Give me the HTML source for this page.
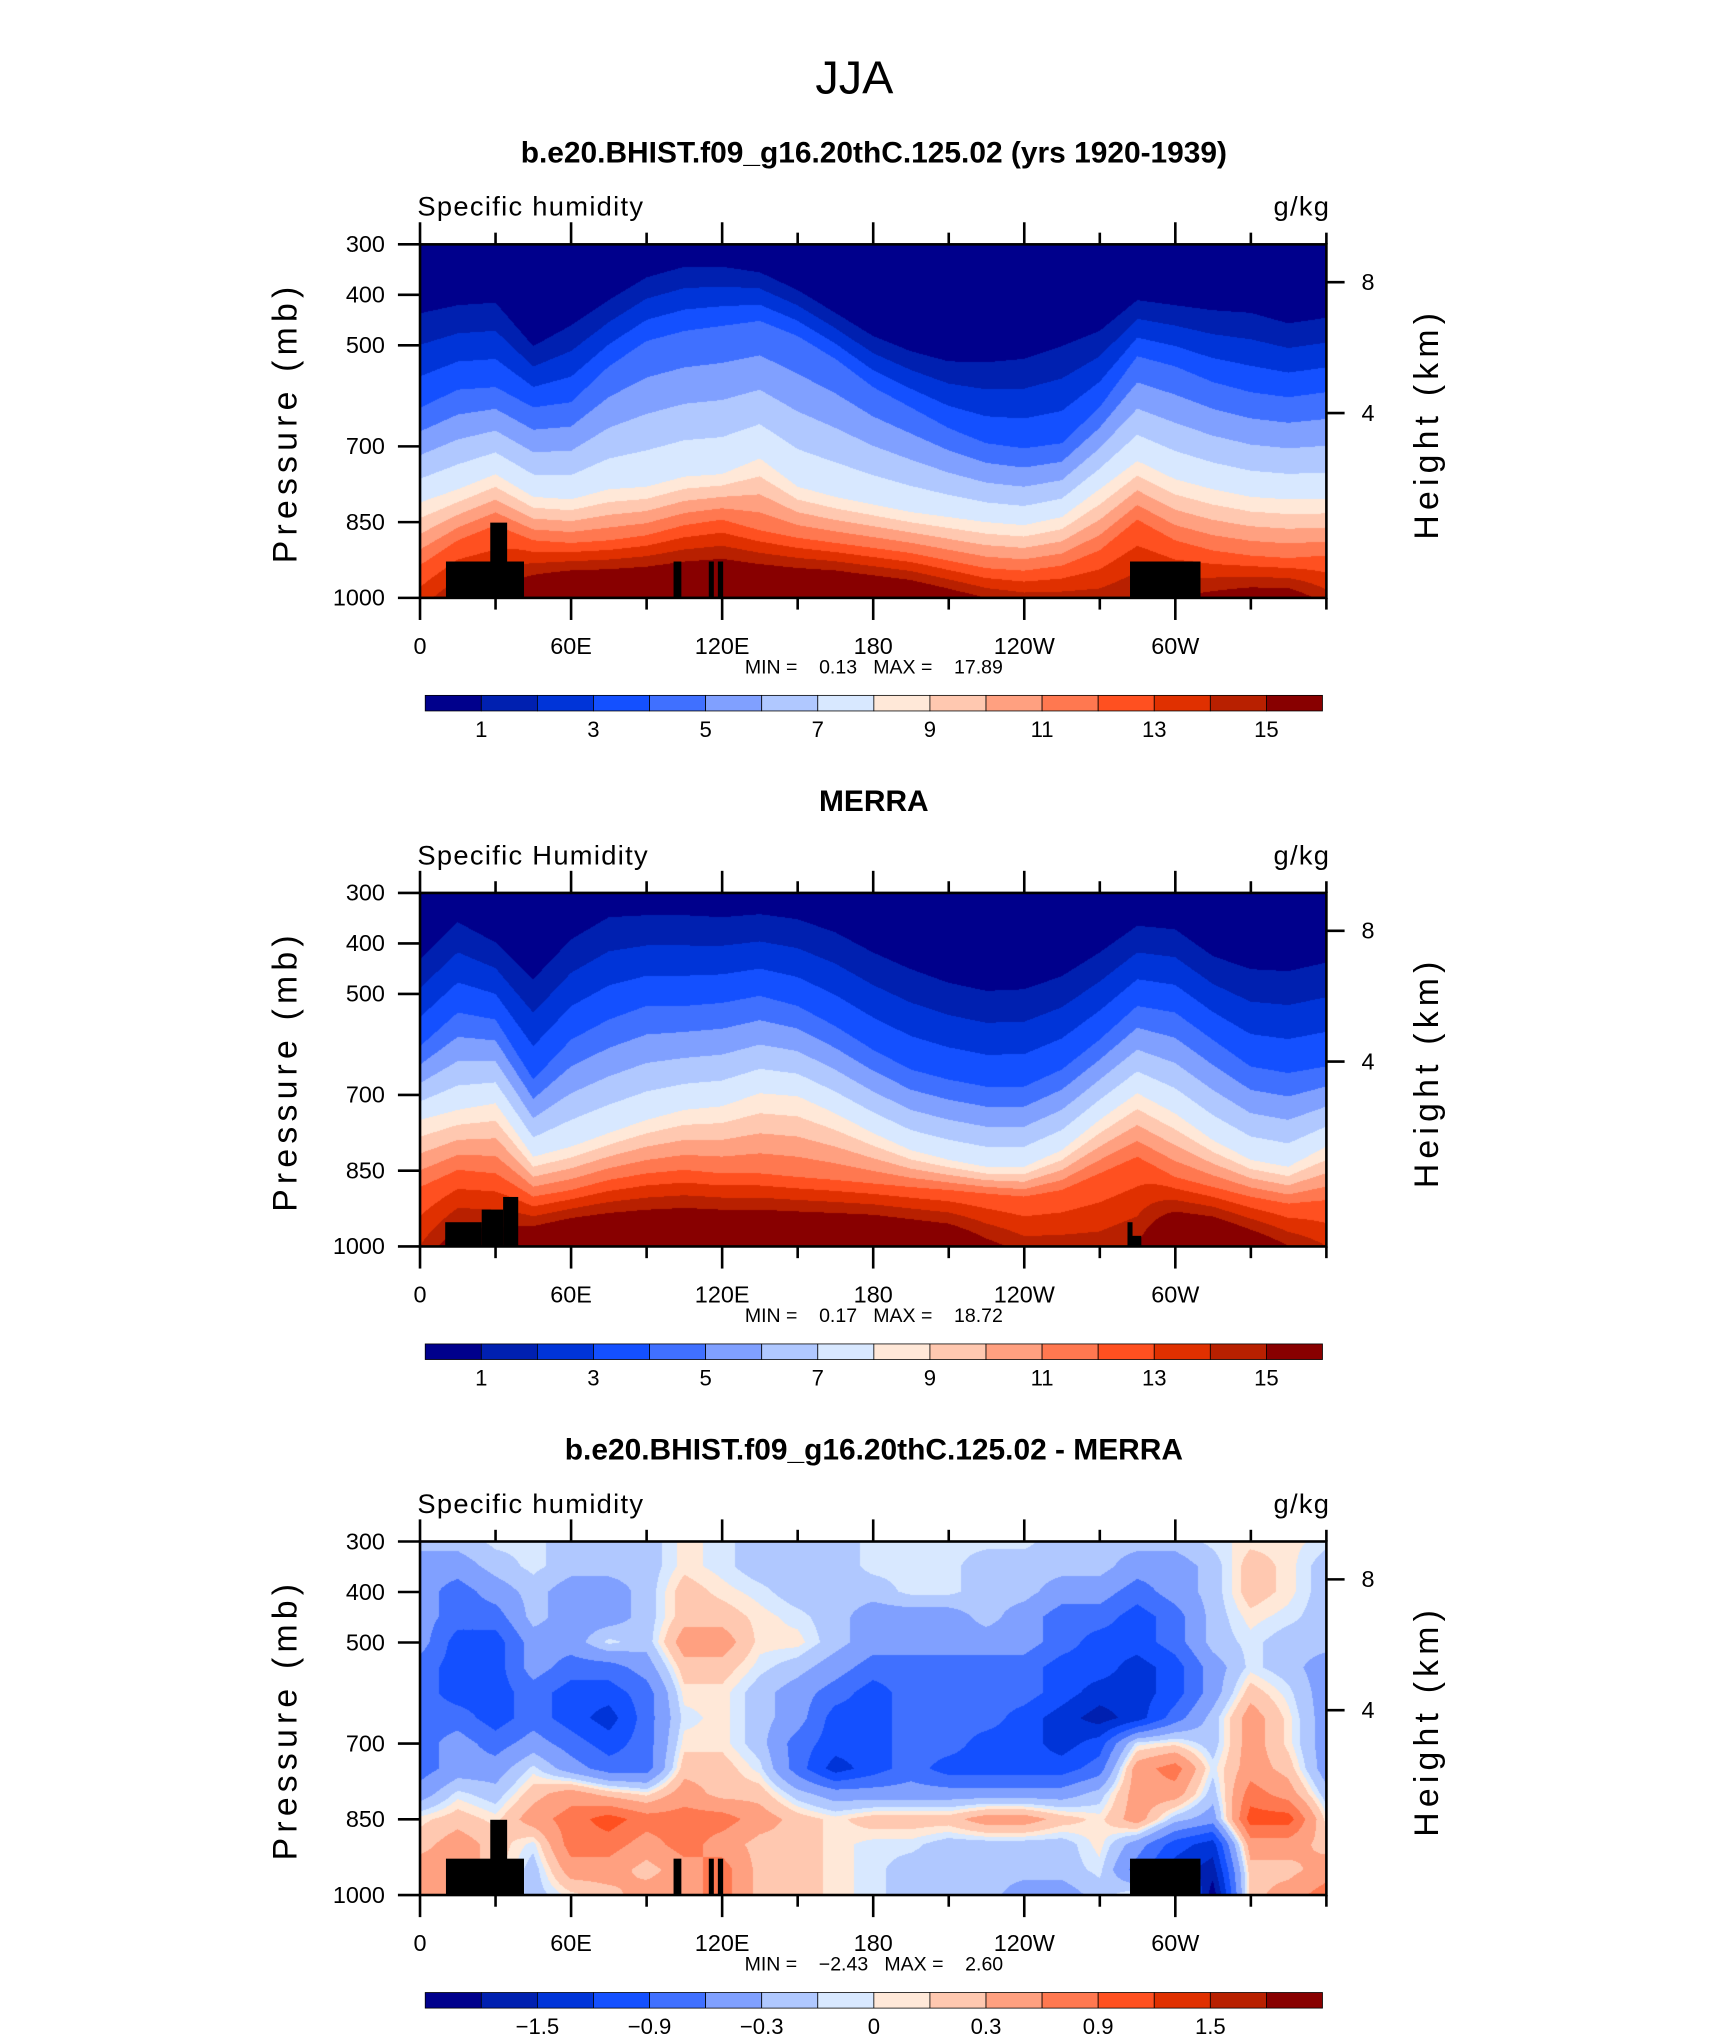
<!DOCTYPE html>
<html><head><meta charset="utf-8"><title>JJA Specific humidity</title>
<style>
html,body{margin:0;padding:0;background:#fff}
#page{position:relative;width:1710px;height:2038px;overflow:hidden;background:#fff}
canvas{position:absolute;display:block}
svg{position:absolute;left:0;top:0}
text{font-family:"Liberation Sans",sans-serif;fill:#000}
</style></head>
<body>
<div id="page">
<canvas id="f1"></canvas>
<canvas id="f2"></canvas>
<canvas id="f3"></canvas>
<svg id="ov" width="1710" height="2038" viewBox="0 0 1315 1568" preserveAspectRatio="none"></svg>
</div>
<script>
// ---------------- data ----------------
const lons = [0,15,30,45,60,75,90,105,120,135,150,165,180,195,210,225,240,255,270,285,300,315,330,345,360];
// panel 1 (model): pressure (mb) of the 1, 4, 8, 12 g/kg contours, and near-surface value
const m1P1  = [437,421,416,502,461,411,366,345,345,356,391,436,482,512,532,534,527,502,472,411,421,431,436,457,446];
const m1P4  = [624,588,583,623,613,542,492,472,462,452,482,527,583,623,664,694,704,694,623,522,542,573,593,603,593];
const m1P8  = [811,785,755,800,805,785,780,760,755,724,780,800,815,830,840,850,856,840,785,729,765,785,800,805,805];
const m1P12 = [935,886,856,886,891,886,876,856,845,866,881,891,901,911,926,941,946,936,906,845,886,906,916,921,916];
const m1Qs  = [13.5,15,15,17,18,18,18,18,18,18,18,18,17.5,17,16,15,14.5,14.5,14.5,15,15,15.5,16,16,14.5];
// panel 2 (MERRA)
const m2P1  = [431,358,398,471,392,348,344,344,348,342,352,378,418,451,478,494,491,465,418,365,372,425,451,455,438];
const m2P4  = [604,537,551,670,591,551,524,524,518,504,524,564,611,650,670,684,684,650,591,524,537,591,644,657,644];
const m2P8  = [750,730,717,823,803,776,750,730,723,697,703,737,776,810,829,843,843,810,750,697,737,790,829,843,803];
const m2P12 = [883,849,856,902,889,869,856,849,856,856,863,869,876,883,889,896,902,889,856,823,863,883,902,916,909];
const m2Qs  = [14,16,16,17,18,18,18,18,18,18,18,18,18,17.5,17,15.5,14.5,14.5,14.5,15,18,18,16.5,15,14];
// panel 3 (difference) grid: rows of pressures, columns of lons
const diffP = [300,350,400,450,500,550,600,650,700,750,800,850,900,950,1000];
const diffRows = [
[-0.2,-0.2,-0.05,-0.05,-0.2,-0.2,-0.2,0.05,-0.05,-0.2,-0.2,-0.2,-0.05,-0.05,-0.05,-0.05,-0.05,-0.2,-0.2,-0.2,-0.2,-0.05,0.05,0.05,-0.05],
[-0.45,-0.45,-0.2,-0.05,-0.2,-0.2,-0.2,0.05,-0.05,-0.2,-0.2,-0.2,-0.05,-0.05,-0.05,-0.2,-0.2,-0.2,-0.2,-0.45,-0.45,-0.2,0.2,0.05,-0.2],
[-0.45,-0.75,-0.45,-0.2,-0.45,-0.45,-0.2,0.2,0.05,-0.05,-0.2,-0.2,-0.2,-0.05,-0.05,-0.2,-0.2,-0.45,-0.45,-0.75,-0.45,-0.2,0.2,0.05,-0.2],
[-0.45,-0.75,-0.75,-0.2,-0.45,-0.45,-0.2,0.2,0.2,0.05,-0.05,-0.2,-0.45,-0.45,-0.45,-0.2,-0.45,-0.75,-0.75,-1.05,-0.75,-0.2,0.05,-0.05,-0.2],
[-0.45,-1.05,-1.05,-0.45,-0.45,-0.05,-0.2,0.45,0.45,0.05,0.05,-0.2,-0.45,-0.45,-0.45,-0.45,-0.45,-0.75,-1.05,-1.05,-0.75,-0.2,-0.05,-0.2,-0.2],
[-0.75,-1.05,-1.05,-0.45,-0.75,-0.75,-0.45,0.2,0.2,-0.05,-0.2,-0.45,-0.75,-0.75,-0.75,-0.75,-0.75,-1.05,-1.05,-1.35,-1.05,-0.45,-0.05,-0.2,-0.45],
[-0.75,-1.05,-1.05,-0.75,-1.05,-1.05,-0.75,0.05,0.05,-0.2,-0.45,-0.75,-1.05,-0.75,-0.75,-0.75,-0.75,-1.05,-1.35,-1.35,-1.05,-0.45,0.2,-0.05,-0.45],
[-0.75,-0.75,-1.05,-0.75,-1.05,-1.35,-0.75,-0.05,0.05,-0.2,-0.45,-1.05,-1.05,-0.75,-0.75,-0.75,-1.05,-1.35,-1.65,-1.35,-0.75,-0.2,0.45,0.05,-0.45],
[-0.75,-0.45,-0.75,-0.45,-0.75,-1.05,-0.75,0.05,0.05,-0.2,-0.75,-1.05,-1.05,-0.75,-0.75,-1.05,-1.05,-1.35,-1.05,-0.05,0.05,-0.2,0.45,0.05,-0.45],
[-0.75,-0.45,-0.45,-0.05,-0.45,-0.75,-0.75,0.2,0.2,-0.05,-0.75,-1.35,-1.05,-0.75,-1.05,-1.05,-1.05,-1.05,-0.75,0.45,0.75,-0.05,0.45,0.2,-0.45],
[-0.45,-0.05,-0.2,0.2,0.45,0.2,0.05,0.45,0.2,0.2,-0.2,-0.45,-0.45,-0.45,-0.45,-0.45,-0.45,-0.45,-0.2,0.45,0.45,-0.2,0.75,0.45,-0.2],
[0.05,0.2,0.05,0.45,0.75,1.05,0.75,0.75,0.75,0.45,0.2,0.05,0.2,0.2,0.2,0.45,0.45,0.2,0.05,0.45,-0.2,-0.45,1.05,1.05,0.05],
[0.2,0.45,0.2,-0.05,0.75,0.75,0.45,0.75,0.45,0.2,0.2,0.05,-0.05,-0.05,-0.2,-0.2,-0.2,-0.2,0.05,-0.45,-1.05,-1.35,0.45,0.45,0.2],
[0.45,0.45,0.2,-0.2,0.45,0.45,0.2,0.45,0.75,0.2,0.2,0.05,-0.05,-0.2,-0.2,-0.2,-0.2,-0.2,-0.05,-0.75,-1.35,-1.65,0.2,0.2,0.45],
[0.45,0.45,0.2,-0.2,0.05,0.2,0.45,0.45,0.75,0.2,0.2,0.05,-0.05,-0.2,-0.2,-0.2,-0.45,-0.45,-0.2,0.05,-0.2,-2,0.2,0.45,0.75]
];
// contour levels & labels
const qLevels = [1,2,3,4,5,6,7,8,9,10,11,12,13,14,15];
const qLabels = ["1","3","5","7","9","11","13","15"];
const dLevels = [-1.8,-1.5,-1.2,-0.9,-0.6,-0.3,-0.1,0,0.1,0.3,0.6,0.9,1.2,1.5,1.8];
const dLabels = ["\u22121.5","\u22120.9","\u22120.3","0","0.3","0.9","1.5"];
const colors = ["#00008c","#0020b0","#0034d8","#1450ff","#4070ff","#80a0ff","#b0c8ff","#d8e8ff","#ffe8d8","#ffc8b0","#ffa080","#ff7850","#ff5020","#e03000","#b82000","#880000"];
// terrain masks [lonStart, lonEnd, topPressure]
const mask1 = [[10.3,41.3,928],[27.9,34.6,851],[100.7,103.8,928],[114.7,116.7,928],[118.3,120.4,928],[282,310,928]];
const mask2 = [[10,24.5,952],[24.5,33,927],[33,39,902],[281,283,952],[281,286.5,979]];
const mask3 = mask1;
const pTicks = [300,400,500,700,850,1000];
const hTicks = [8,4];
const hTickP = [375,634];
const xTickLons = [0,60,120,180,240,300];
const xTickLabels = ["0","60E","120E","180","120W","60W"];
const minMax = [["0.13","17.89"],["0.17","18.72"],["\u22122.43","2.60"]];
const titles = ["b.e20.BHIST.f09_g16.20thC.125.02 (yrs 1920-1939)","MERRA","b.e20.BHIST.f09_g16.20thC.125.02 - MERRA"];
const leftTitles = ["Specific humidity","Specific Humidity","Specific humidity"];

// ---------------- geometry ----------------
const SX = 1710/1315, SY = 2038/1568;
const PL = 323, PR = 1020, PH = 272, PANEL_TOPS = [188,687,1186];
const xOf = lon => PL + lon/360*(PR-PL);
const yOf = (p,top) => top + (p-300)/700*PH;
const NS = "http://www.w3.org/2000/svg";
const ov = document.getElementById('ov');
function mk(tag, attrs, parent, txt){
  const e = document.createElementNS(NS, tag);
  for (const k in attrs) e.setAttribute(k, attrs[k]);
  if (txt !== undefined) e.textContent = txt;
  (parent||ov).appendChild(e);
  return e;
}
function interpLon(arr, lon){
  const i = Math.min(lons.length-2, Math.floor(lon/15));
  const t = (lon - lons[i])/15;
  return arr[i]*(1-t) + arr[i+1]*t;
}
function profile(anchors, p){
  for (let i=0;i<anchors.length-1;i++){
    const a=anchors[i], b=anchors[i+1];
    if (p<=b[0]) { const t=(p-a[0])/Math.max(1e-6,(b[0]-a[0])); return a[1]+(b[1]-a[1])*Math.max(0,Math.min(1,t)); }
  }
  return anchors[anchors.length-1][1];
}
function levelIndex(v, levels){ let k=0; while(k<levels.length && v>=levels[k]) k++; return k; }
function hexRgb(h){ return [parseInt(h.substr(1,2),16),parseInt(h.substr(3,2),16),parseInt(h.substr(5,2),16)]; }
const rgb = colors.map(hexRgb);

function drawField(id, top, valueAt, levels){
  const cv = document.getElementById(id);
  const L = Math.round(PL*SX), R = Math.round(PR*SX), T = Math.round(top*SY), B = Math.round((top+PH)*SY);
  const w = R-L, h = B-T;
  cv.width = w; cv.height = h;
  cv.style.left = L+'px'; cv.style.top = T+'px'; cv.style.width = w+'px'; cv.style.height = h+'px';
  const ctx = cv.getContext('2d');
  const img = ctx.createImageData(w,h);
  for (let x=0;x<w;x++){
    const lon = (x+0.5)/w*360;
    const col = valueAt.column(lon);
    for (let y=0;y<h;y++){
      const p = 300 + (y+0.5)/h*700;
      const c = rgb[levelIndex(col(p), levels)];
      const o = (y*w+x)*4;
      img.data[o]=c[0]; img.data[o+1]=c[1]; img.data[o+2]=c[2]; img.data[o+3]=255;
    }
  }
  ctx.putImageData(img,0,0);
}
function humidityColumn(P1,P4,P8,P12,QS){
  return { column: lon => {
    const a = [[300,0.2],[interpLon(P1,lon),1],[interpLon(P4,lon),4],[interpLon(P8,lon),8],[interpLon(P12,lon),12],[1000,interpLon(QS,lon)]];
    return p => profile(a,p);
  }};
}
const diffColumn = { column: lon => {
  const col = diffRows.map(r => interpLon(r, lon));
  return p => {
    const j = Math.min(diffP.length-2, Math.floor((p-300)/50));
    const t = (p-diffP[j])/50;
    return col[j]*(1-t)+col[j+1]*t;
  };
}};
drawField('f1', PANEL_TOPS[0], humidityColumn(m1P1,m1P4,m1P8,m1P12,m1Qs), qLevels);
drawField('f2', PANEL_TOPS[1], humidityColumn(m2P1,m2P4,m2P8,m2P12,m2Qs), qLevels);
drawField('f3', PANEL_TOPS[2], diffColumn, dLevels);

// ---------------- overlay ----------------
const mt = mk('text',{x:657,y:72,'text-anchor':'middle','font-size':36},ov,'JJA');



const masks=[mask1,mask2,mask3];
const cbLabels=[qLabels,qLabels,dLabels];
const cbLabelIdx=[[0,2,4,6,8,10,12,14],[0,2,4,6,8,10,12,14],[1,3,5,7,9,11,13]];
PANEL_TOPS.forEach((top, k) => {
  const g = mk('g',{});
  
  
  const t = mk('text',{x:672,y:top-63,'text-anchor':'middle','font-size':23,'font-weight':'bold'},g,titles[k]);
  
  
  const lt = mk('text',{x:321,y:top-22,'font-size':21,'letter-spacing':'1'},g,leftTitles[k]);
  
  
  const ut = mk('text',{x:1023,y:top-22,'font-size':21,'text-anchor':'end','letter-spacing':'1'},g,'g/kg');
  
  
  masks[k].forEach(m => {
    const r = mk('rect',{x:xOf(m[0]),y:yOf(m[2],top),width:xOf(m[1])-xOf(m[0]),height:yOf(1000,top)-yOf(m[2],top),fill:'#000'},g);
    
    
  });
  const fr = mk('rect',{x:PL,y:top,width:PR-PL,height:PH,fill:'none',stroke:'#000','stroke-width':2},g);
  
  
  pTicks.forEach(p => {
    const y = yOf(p,top);
    const l = mk('line',{x1:306,x2:PL,y1:y,y2:y,stroke:'#000','stroke-width':2},g);
    
    
    const tx = mk('text',{x:296,y:y+6,'text-anchor':'end','font-size':18},g,String(p));
    
    
  });
  hTicks.forEach((h,i) => {
    const y = yOf(hTickP[i],top);
    const l = mk('line',{x1:PR,x2:PR+14,y1:y,y2:y,stroke:'#000','stroke-width':2},g);
    
    
    const tx = mk('text',{x:PR+27,y:y+6,'font-size':18},g,String(h));
    
    
  });
  for (let lon=0; lon<=360; lon+=30){
    const x = xOf(lon), major = lon%60===0 && lon<360;
    const len = major?17:9;
    const a = mk('line',{x1:x,x2:x,y1:top,y2:top-len,stroke:'#000','stroke-width':2},g);
    
    
    const b = mk('line',{x1:x,x2:x,y1:top+PH,y2:top+PH+len,stroke:'#000','stroke-width':2},g);
    
    
  }
  xTickLons.forEach((lon,i) => {
    const tx = mk('text',{x:xOf(lon),y:top+PH+43,'text-anchor':'middle','font-size':18},g,xTickLabels[i]);
    
    
  });
  const yl = mk('text',{x:0,y:0,transform:`translate(228,${top+137}) rotate(-90)`,'text-anchor':'middle','font-size':26,'letter-spacing':'4'},g,'Pressure (mb)');
  
  
  const hl = mk('text',{x:0,y:0,transform:`translate(1106,${top+138}) rotate(-90)`,'text-anchor':'middle','font-size':26,'letter-spacing':'4'},g,'Height (km)');
  
  
  const mm = mk('text',{x:672,y:top+PH+58,'text-anchor':'middle','font-size':15,style:'white-space:pre'},g,'MIN =    '+minMax[k][0]+'   MAX =    '+minMax[k][1]);
  
  
  const cbL=327, cbR=1017, cbT=top+347, cbH=12, bw=(cbR-cbL)/16;
  colors.forEach((c,i) => {
    const r = mk('rect',{x:cbL+i*bw,y:cbT,width:bw,height:cbH,fill:c,stroke:'#000','stroke-width':0.6},g);
    
    
  });
  cbLabelIdx[k].forEach((li,j) => {
    const tx = mk('text',{x:cbL+(li+1)*bw,y:cbT+32,'text-anchor':'middle','font-size':17},g,cbLabels[k][j]);
    
    
  });
});
</script>
</body></html>
